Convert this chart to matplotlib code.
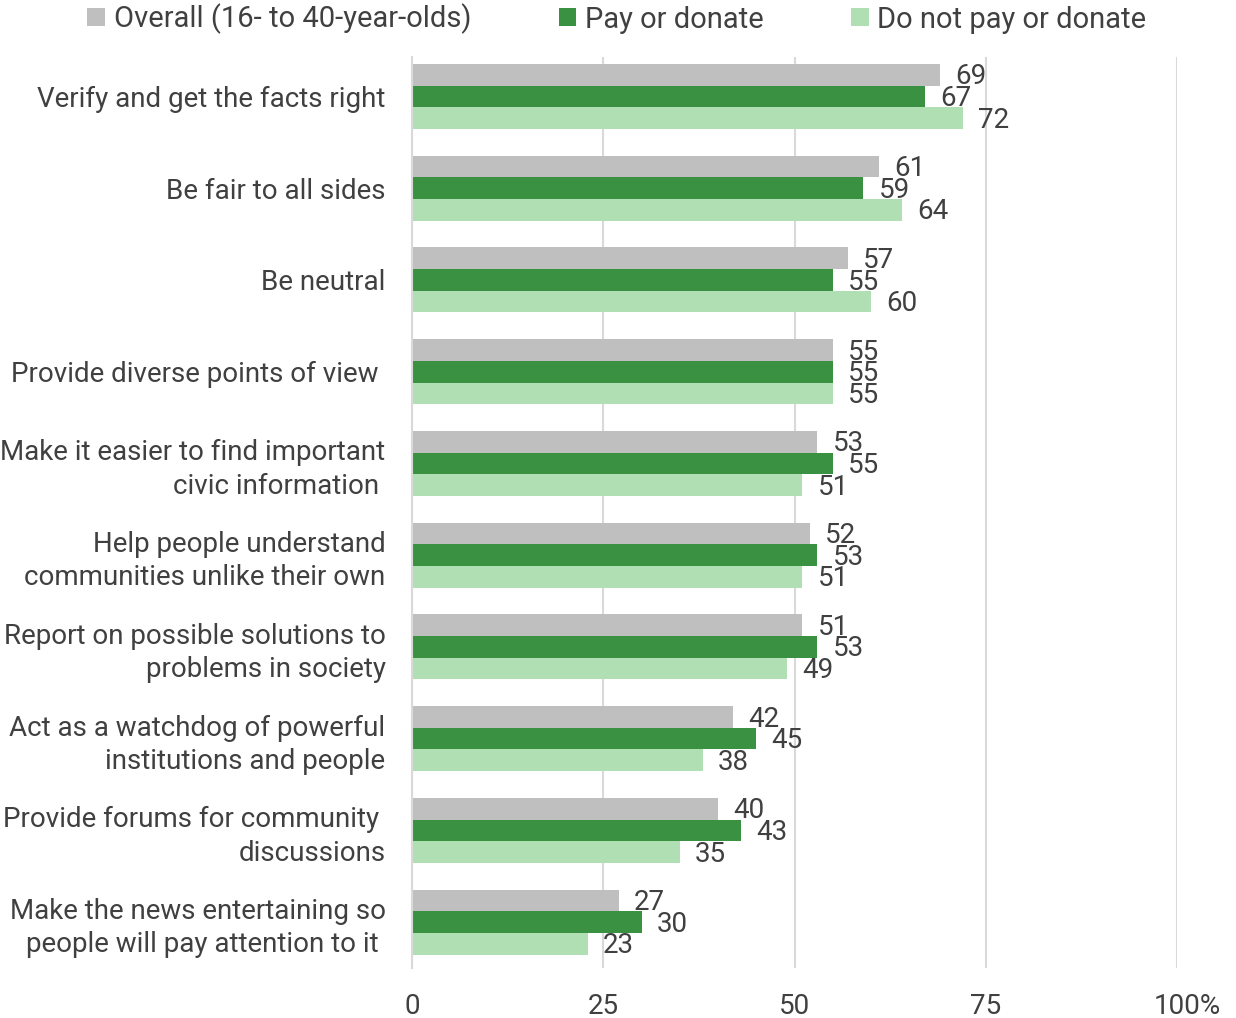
import numpy as np
import matplotlib.pyplot as plt
import matplotlib.transforms as mtransforms
from matplotlib.patches import Patch

plt.rcParams['font.family'] = ['Roboto', 'DejaVu Sans']

categories = [
    'Verify and get the facts right',
    'Be fair to all sides',
    'Be neutral',
    'Provide diverse points of view ',
    'Make it easier to find important\ncivic information ',
    'Help people understand\ncommunities unlike their own',
    'Report on possible solutions to\nproblems in society',
    'Act as a watchdog of powerful\ninstitutions and people',
    'Provide forums for community \ndiscussions',
    'Make the news entertaining so\npeople will pay attention to it ',
]
overall = [69, 61, 57, 55, 53, 52, 51, 42, 40, 27]
pay = [67, 59, 55, 55, 55, 53, 53, 45, 43, 30]
not_pay = [72, 64, 60, 55, 51, 51, 49, 38, 35, 23]
series_names = ['Overall (16- to 40-year-olds)', 'Pay or donate', 'Do not pay or donate']
colors = ['#bfbfbf', '#3a9142', '#b1dfb4']
xticks = [0, 25, 50, 75, 100]
xtick_labels = ['0', '25', '50', '75', '100%']

text_col = '#404040'
fs = 20

fig = plt.figure(figsize=(12.36, 10.18), dpi=100)
ax = fig.add_axes([412 / 1236, 1 - 968 / 1018, (1177 - 412) / 1236, (968 - 57) / 1018])

y = np.arange(len(categories))
h = 0.236
for k, (vals, col) in enumerate(zip([overall, pay, not_pay], colors)):
    pos = y + (k - 1) * h
    ax.barh(pos, vals, height=h, color=col, zorder=2)
    for p, v in zip(pos, vals):
        ax.annotate(str(v), (v, p), xytext=(11, -1.5), textcoords='offset points',
                    ha='left', va='center', fontsize=fs, color=text_col)

ax.set_xlim(0, 100)
ax.set_ylim(9.5, -0.43)
ax.set_yticks(y)
ax.set_yticklabels(categories, fontsize=fs, color=text_col, ha='right', linespacing=1.3)
ax.set_xticks(xticks)
ax.set_xticklabels(xtick_labels, fontsize=fs, color=text_col)
ax.tick_params(axis='y', length=0, pad=19)
ax.tick_params(axis='x', length=0, pad=18)
# the "100%" label sits a bit right of its gridline
last = ax.get_xticklabels()[-1]
last.set_transform(last.get_transform() + mtransforms.ScaledTranslation(10 / 100, 0, fig.dpi_scale_trans))
ax.grid(axis='x', color='#d9d9d9', linewidth=1.5, zorder=0)
for s in ['top', 'right', 'bottom']:
    ax.spines[s].set_visible(False)
ax.spines['left'].set_color('#d9d9d9')
ax.spines['left'].set_linewidth(1.5)

handles = [Patch(facecolor=c, label=n) for c, n in zip(colors, series_names)]
fig.legend(handles=handles, loc='center', bbox_to_anchor=(617 / 1236, 1 - 19 / 1018), ncol=3,
           frameon=False, fontsize=21, labelcolor=text_col, handlelength=0.6, handleheight=0.6,
           handletextpad=0.3, columnspacing=3.0, borderaxespad=0, borderpad=0)

fig.savefig('out.png', dpi=100)
